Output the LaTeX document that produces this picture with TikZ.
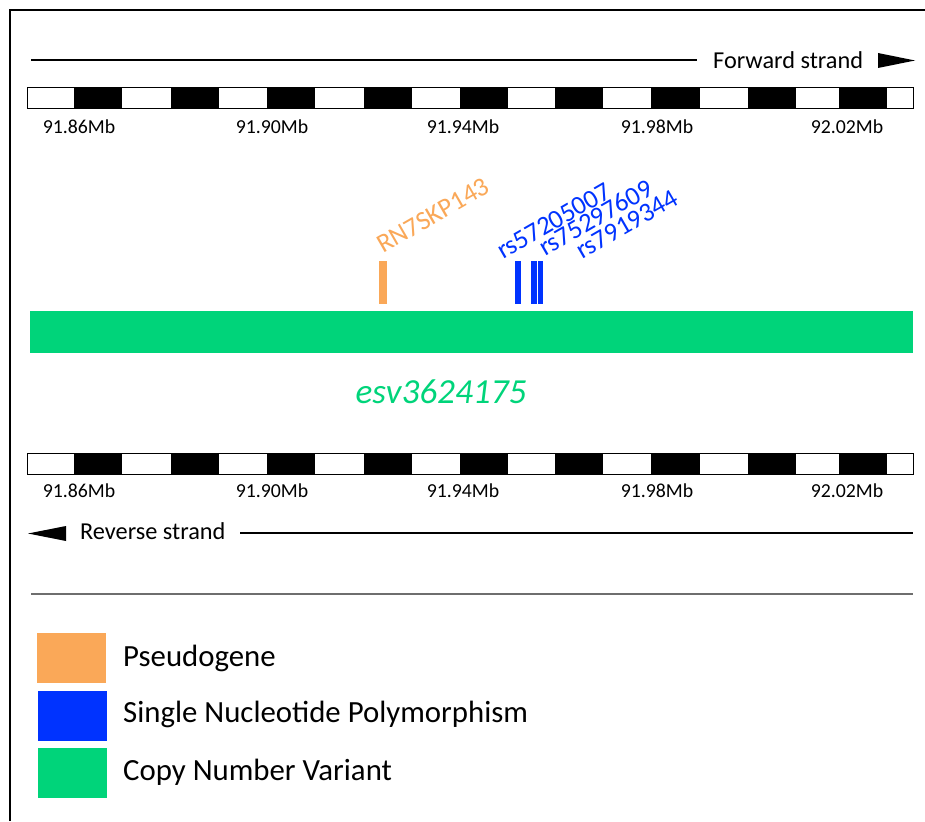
\documentclass[tikz,border=0pt]{standalone}
\usepackage{fontspec}
\setmainfont{Carlito}
\definecolor{pseudo}{RGB}{250,168,88}
\definecolor{snp}{RGB}{0,51,255}
\definecolor{cnv}{RGB}{0,212,122}
\definecolor{sepgray}{RGB}{110,110,110}
\tikzset{
  rulerblk/.style={fill=black},
  ticklbl/.style={inner sep=0pt,font=\fontsize{19.8}{20}\selectfont},
  strandlbl/.style={inner sep=0pt,anchor=west,font=\fontsize{24.3}{24}\selectfont},
  featlbl/.style={inner sep=0pt,anchor=base west,rotate=30,font=\fontsize{26.5}{26}\selectfont},
  legendlbl/.style={inner sep=0pt,anchor=west,font=\fontsize{30.8}{31}\selectfont},
}
\newcommand{\myruler}[1]{%
  \fill[white] (27,#1) rectangle (913,#1+21);
  \foreach \a/\b in {74/122,171/219,267/315,364/412,460/508,555/603,651/700,748/796,839/887}
    \fill[rulerblk] (\a,#1) rectangle (\b,#1+21);
  \draw[line width=1pt] (27,#1) rectangle (913,#1+21);
}
\begin{document}
\begin{tikzpicture}[x=1pt,y=-1pt]
\useasboundingbox (0,0) rectangle (925,821);
\fill[white] (0,0) rectangle (925,821);
% border
\draw[line width=1.8pt] (10,821) -- (10,10) -- (925,10);

% forward strand
\node[strandlbl] (fwd) at (713,60) {Forward strand};
\coordinate (fl) at (31,60);
\coordinate (fr) at (697,60);
\draw[line width=1.3pt] (fl) -- (fr);
\fill (878,53) -- (915,60.5) -- (878,68) -- cycle;

% top ruler
\myruler{88}
\foreach \x/\t [count=\i] in {79/91.86Mb,272/91.90Mb,463/91.94Mb,657/91.98Mb,847/92.02Mb}
  \node[ticklbl] (top\i) at (\x,127) {\t};

% features
\fill[pseudo] (379,261) rectangle (387,304);
\fill[snp] (515,261) rectangle (521,304);
\fill[snp] (531,261) rectangle (537,304);
\fill[snp] (537.8,261) rectangle (543,304);
\node[featlbl,text=pseudo] (rn7) at (383,254) {RN7SKP143};
\node[featlbl,text=snp] (rs1) at (503,260) {rs57205007};
\node[featlbl,text=snp] (rs2) at (545,257) {rs75297609};
\node[featlbl,text=snp] (rs3) at (582,260) {rs7919344};

% CNV
\fill[cnv] (30,311) rectangle (913,353);
\node[inner sep=0pt,text=cnv,font=\fontsize{35.2}{35}\selectfont\itshape] (esv) at (441,392) {esv3624175};

% bottom ruler
\myruler{453}
\foreach \x/\t [count=\i] in {79/91.86Mb,272/91.90Mb,463/91.94Mb,657/91.98Mb,847/92.02Mb}
  \node[ticklbl] (bot\i) at (\x,491) {\t};

% reverse strand
\node[strandlbl] (rev) at (80,531) {Reverse strand};
\coordinate (rl) at (240,533);
\coordinate (rr) at (913,533);
\draw[line width=1.3pt] (rl) -- (rr);
\fill (28,533.5) -- (66,526) -- (66,541) -- cycle;

% separator
\draw[sepgray,line width=1.5pt] (31,594) -- (913,594);

% legend
\fill[pseudo] (37,633) rectangle (106,683);
\fill[snp] (38,691) rectangle (107,741);
\fill[cnv] (38,748) rectangle (107,798);
\node[legendlbl] (l1) at (123,658) {Pseudogene};
\node[legendlbl] (l2) at (123,714) {Single Nucleotide Polymorphism};
\node[legendlbl] (l3) at (123,772) {Copy Number Variant};
\end{tikzpicture}
\end{document}
